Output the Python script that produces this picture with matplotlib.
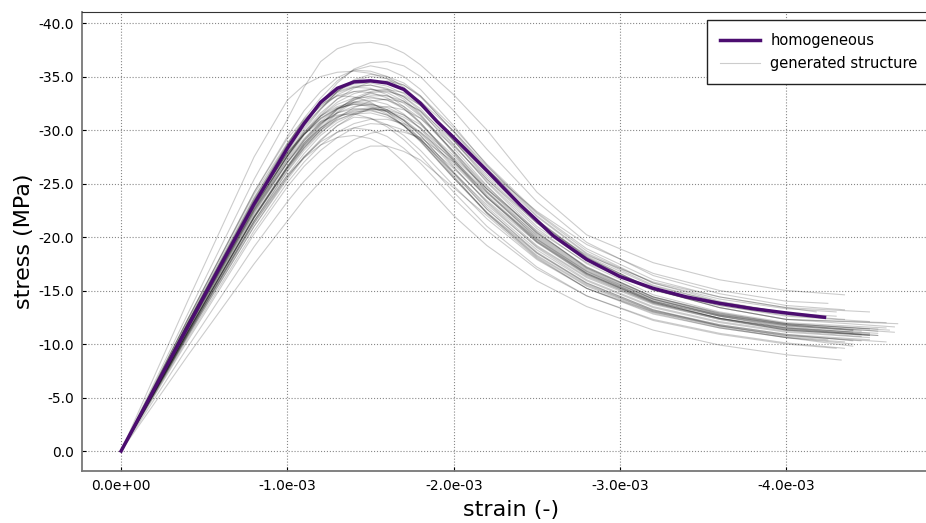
import numpy as np
import matplotlib
matplotlib.use("Agg")
import matplotlib.pyplot as plt
from matplotlib.ticker import FormatStrFormatter

# strain grid (units of 1e-3, compressive -> negative)
grid = [0, 0.4, 0.8, 1.0, 1.1, 1.2, 1.3, 1.4, 1.5, 1.6, 1.7, 1.8, 2.0, 2.2, 2.5, 2.8, 3.2, 3.6, 4.0]

# homogeneous material
homog_strain = [0, 0.2, 0.4, 0.6, 0.8, 1.0, 1.1, 1.2, 1.3, 1.4, 1.5, 1.6, 1.7, 1.8, 1.9, 2.0,
                2.2, 2.4, 2.6, 2.8, 3.0, 3.2, 3.4, 3.6, 3.8, 4.0, 4.23]
homog_stress = [0, -5.8, -11.6, -17.4, -23.1, -28.3, -30.6, -32.6, -33.9, -34.5, -34.6, -34.4,
                -33.8, -32.5, -30.8, -29.3, -26.2, -23.0, -20.1, -17.9, -16.3, -15.2, -14.4,
                -13.8, -13.3, -12.9, -12.5]

# generated structures: stress at grid points (MPa)
gen_stress = [
    [0, -12.8, -25.4, -31.0, -34.0, -36.4, -37.6, -38.1, -38.2, -37.9, -37.2, -36.1, -33.3, -30.0, -24.2, -20.2, -17.6, -16.0, -15.0],
    [0, -14.0, -27.5, -32.8, -34.2, -35.0, -35.4, -35.5, -35.3, -34.8, -33.8, -32.4, -29.0, -25.6, -21.3, -18.3, -15.8, -14.4, -13.4],
    [0, -8.9, -17.5, -21.5, -23.5, -25.2, -26.7, -27.9, -28.5, -28.5, -28.0, -27.2, -24.6, -22.0, -18.0, -15.2, -13.0, -11.6, -10.6],
    [0, -11.0, -21.5, -25.8, -27.4, -28.6, -29.3, -29.5, -29.2, -28.4, -27.0, -25.4, -22.0, -19.2, -15.9, -13.5, -11.3, -9.9, -9.0],
    [0, -11.9, -23.4, -28.4, -30.6, -32.3, -33.5, -34.0, -33.9, -33.3, -32.2, -30.7, -27.2, -23.8, -19.6, -16.6, -14.0, -12.6, -11.7],
    [0, -11.1, -21.8, -26.4, -28.3, -29.8, -30.9, -31.6, -32.0, -31.8, -31.2, -30.2, -27.4, -24.5, -20.6, -17.6, -15.0, -13.6, -12.6],
    [0, -11.7, -23.0, -27.9, -30.2, -32.0, -33.6, -34.7, -35.2, -35.0, -34.4, -33.2, -29.8, -26.2, -21.6, -18.2, -15.4, -13.9, -12.9],
    [0, -10.7, -21.0, -25.4, -27.4, -29.0, -30.4, -31.2, -31.1, -30.5, -29.5, -28.1, -24.8, -21.7, -17.9, -15.2, -12.9, -11.5, -10.6],
    [0, -11.1, -21.8, -26.5, -28.6, -30.2, -31.7, -32.8, -33.5, -33.6, -33.2, -32.3, -29.4, -26.0, -21.6, -18.1, -15.1, -13.4, -12.3],
    [0, -11.9, -23.2, -27.8, -29.6, -31.0, -32.0, -32.5, -32.4, -31.9, -30.9, -29.5, -26.1, -22.8, -18.8, -15.9, -13.4, -12.0, -11.1],
    [0, -11.9, -23.5, -28.6, -31.1, -33.0, -34.6, -35.6, -36.0, -35.7, -35.0, -33.8, -30.4, -26.7, -22.0, -18.5, -15.7, -14.2, -13.3],
    [0, -10.3, -20.3, -24.7, -26.6, -28.1, -29.3, -30.2, -30.6, -30.5, -30.0, -29.1, -26.4, -23.4, -19.5, -16.5, -13.9, -12.4, -11.4],
    [0, -12.3, -24.2, -29.2, -31.0, -32.4, -33.2, -33.1, -32.6, -31.7, -30.4, -28.9, -25.5, -22.3, -18.5, -15.7, -13.2, -11.8, -10.9],
    [0, -11.5, -22.6, -27.5, -29.7, -31.4, -32.9, -33.9, -34.5, -34.6, -34.2, -33.2, -30.2, -26.8, -22.3, -18.9, -16.0, -14.4, -13.4],
    [0, -11.5, -22.5, -27.0, -28.8, -30.2, -31.2, -31.7, -31.8, -31.4, -30.5, -29.2, -25.9, -22.6, -18.6, -15.7, -13.2, -11.7, -10.7],
    [0, -10.9, -21.5, -26.2, -28.3, -30.0, -31.6, -32.6, -33.0, -32.8, -32.2, -31.1, -28.0, -24.7, -20.4, -17.2, -14.4, -12.9, -11.9],
    [0, -12.3, -24.2, -29.4, -31.8, -33.6, -34.9, -35.6, -35.5, -35.0, -34.0, -32.6, -29.0, -25.4, -21.0, -17.8, -15.1, -13.6, -12.7],
    [0, -10.7, -21.0, -25.6, -27.5, -29.1, -30.4, -31.4, -32.0, -32.2, -31.9, -31.1, -28.5, -25.4, -21.3, -18.0, -15.1, -13.4, -12.3],
    [0, -10.9, -21.3, -25.6, -27.5, -28.9, -29.8, -30.2, -30.0, -29.4, -28.3, -26.9, -23.6, -20.6, -17.0, -14.5, -12.3, -11.0, -10.1],
    [0, -11.9, -23.4, -28.3, -30.4, -32.0, -33.3, -34.0, -34.2, -33.9, -33.1, -31.8, -28.3, -24.8, -20.3, -17.1, -14.4, -12.9, -11.9],
    [0, -11.3, -22.2, -26.9, -29.0, -30.6, -31.9, -32.6, -32.8, -32.4, -31.5, -30.1, -26.6, -23.2, -19.0, -16.0, -13.5, -12.1, -11.2],
    [0, -11.1, -21.9, -26.6, -28.7, -30.4, -31.9, -33.0, -33.6, -33.8, -33.5, -32.7, -29.9, -26.6, -22.2, -18.7, -15.7, -14.0, -12.9],
    [0, -10.5, -20.6, -25.1, -27.0, -28.6, -29.8, -30.6, -31.0, -31.0, -30.6, -29.8, -27.2, -24.2, -20.2, -17.0, -14.2, -12.6, -11.5],
    [0, -11.5, -22.7, -27.6, -30.0, -31.9, -33.6, -34.6, -35.0, -34.8, -34.2, -33.1, -29.9, -26.4, -21.9, -18.4, -15.5, -13.9, -12.9],
    [0, -11.7, -22.9, -27.6, -29.6, -31.1, -32.1, -32.4, -32.2, -31.5, -30.4, -29.0, -25.5, -22.2, -18.2, -15.4, -13.0, -11.7, -10.8],
    [0, -11.1, -21.9, -26.6, -28.8, -30.5, -32.0, -32.9, -33.4, -33.2, -32.5, -31.3, -28.0, -24.5, -20.1, -16.9, -14.2, -12.7, -11.7],
    [0, -12.1, -23.7, -28.7, -30.9, -32.5, -33.7, -34.3, -34.4, -34.1, -33.4, -32.3, -29.3, -26.3, -22.4, -19.3, -16.6, -15.0, -14.0],
    [0, -11.9, -23.2, -27.9, -29.6, -30.8, -31.4, -31.5, -31.1, -30.3, -29.1, -27.6, -24.2, -21.0, -17.2, -14.5, -12.2, -10.9, -10.0],
    [0, -10.9, -21.5, -26.1, -28.1, -29.7, -31.1, -32.1, -32.7, -32.9, -32.6, -31.8, -29.0, -25.8, -21.5, -18.1, -15.1, -13.4, -12.3],
    [0, -12.3, -24.0, -28.8, -30.8, -32.2, -33.2, -33.6, -33.5, -33.0, -32.0, -30.6, -27.1, -23.7, -19.5, -16.4, -13.8, -12.3, -11.3],
    [0, -11.7, -23.0, -28.0, -30.5, -32.5, -34.4, -35.7, -36.3, -36.4, -36.0, -35.0, -31.8, -28.2, -23.3, -19.5, -16.4, -14.7, -13.6],
    [0, -11.1, -21.8, -26.4, -28.4, -30.0, -31.2, -31.8, -32.0, -31.7, -30.9, -29.7, -26.5, -23.3, -19.2, -16.3, -13.8, -12.4, -11.5],
    [0, -9.7, -19.1, -23.3, -25.2, -26.8, -28.1, -29.1, -29.7, -30.0, -29.8, -29.3, -27.0, -24.1, -20.0, -16.8, -14.0, -12.4, -11.3],
    [0, -11.4, -22.4, -27.0, -29.0, -30.6, -31.6, -32.2, -32.4, -32.1, -31.4, -30.2, -27.0, -23.7, -19.6, -16.5, -13.9, -12.4, -11.4],
    [0, -11.6, -22.8, -27.5, -29.6, -31.3, -32.4, -33.0, -33.1, -32.8, -32.0, -30.7, -27.3, -23.9, -19.7, -16.6, -14.0, -12.6, -11.6],
    [0, -11.2, -22.0, -26.6, -28.6, -30.2, -31.3, -31.9, -32.1, -31.8, -31.0, -29.8, -26.8, -23.7, -19.8, -16.8, -14.2, -12.7, -11.8],
    [0, -11.8, -23.1, -27.8, -29.8, -31.3, -32.2, -32.6, -32.5, -31.9, -30.9, -29.5, -26.0, -22.6, -18.5, -15.6, -13.1, -11.7, -10.8],
    [0, -11.3, -22.3, -27.0, -29.1, -30.8, -32.0, -32.8, -33.2, -33.2, -32.7, -31.7, -28.6, -25.2, -20.8, -17.5, -14.6, -13.0, -12.0],
    [0, -11.5, -22.6, -27.2, -29.2, -30.7, -31.6, -32.0, -31.9, -31.4, -30.4, -29.0, -25.6, -22.3, -18.3, -15.5, -13.1, -11.8, -10.9],
    [0, -12.0, -23.6, -28.6, -30.8, -32.5, -33.6, -34.1, -34.2, -33.8, -32.9, -31.5, -27.9, -24.3, -19.9, -16.7, -14.1, -12.7, -11.8],
    [0, -10.8, -21.3, -25.8, -27.8, -29.5, -30.7, -31.5, -31.9, -31.9, -31.4, -30.5, -27.6, -24.5, -20.4, -17.2, -14.4, -12.8, -11.8],
    [0, -11.7, -22.9, -27.6, -29.6, -31.1, -32.0, -32.4, -32.3, -31.7, -30.7, -29.2, -25.7, -22.2, -18.1, -15.2, -12.8, -11.5, -10.6],
    [0, -11.4, -22.5, -27.3, -29.5, -31.3, -32.6, -33.4, -33.8, -33.7, -33.1, -32.0, -28.7, -25.1, -20.5, -17.1, -14.3, -12.8, -11.9],
    [0, -11.1, -21.9, -26.5, -28.5, -30.0, -31.0, -31.5, -31.6, -31.2, -30.4, -29.1, -26.0, -23.0, -19.1, -16.2, -13.7, -12.3, -11.3],
    [0, -11.6, -22.8, -27.6, -29.8, -31.6, -32.9, -33.6, -33.8, -33.5, -32.7, -31.4, -27.8, -24.2, -19.8, -16.6, -13.9, -12.4, -11.5],
]
# last point of every generated curve (strain in 1e-3, stress)
end_strain = [4.35, 4.18, 4.40, 4.33, 4.45, 4.50, 4.20, 4.40, 4.60, 4.50, 4.30, 4.55, 4.40, 4.50, 4.25,
              4.62, 4.35, 4.67, 4.35, 4.55, 4.45, 4.30, 4.50, 4.20, 4.60, 4.40, 4.25, 4.30, 4.65,
              4.50, 4.35, 4.55, 4.50, 4.50, 4.40, 4.55, 4.45, 4.60, 4.50, 4.40, 4.65, 4.35,
              4.50, 4.55, 4.45]
end_stress = [-14.6, -13.0, -9.8, -8.5, -11.2, -12.1, -12.6, -10.0, -12.0, -10.6, -13.0, -10.8, -10.3,
              -13.0, -10.4, -11.3, -12.3, -11.9, -9.6, -11.4, -10.7, -12.6, -11.0, -12.6, -10.2,
              -11.3, -13.8, -9.6, -11.6, -10.8, -13.2, -11.0, -10.8, -10.9, -11.1, -11.2, -10.3,
              -11.5, -10.4, -11.3, -11.1, -10.2, -11.4, -10.8, -10.9]

fig = plt.figure(figsize=(9.26, 5.23), dpi=100)
ax = fig.add_axes([0.0886, 0.0994, 0.9266, 0.8776])

for i, row in enumerate(gen_stress):
    x = np.array(grid + [end_strain[i]]) * -1e-3
    y = row + [end_stress[i]]
    ax.plot(x, y, color="k", alpha=0.2, lw=0.8,
            label="generated structure" if i == 0 else None, zorder=2)

ax.plot(np.array(homog_strain) * -1e-3, homog_stress, color="#4c0d70", lw=2.5,
        label="homogeneous", zorder=3)

ax.set_xlim(0.000235, -0.004925)
ax.set_ylim(1.87, -41.03)
ax.set_xticks([0, -0.001, -0.002, -0.003, -0.004])
ax.set_yticks(np.arange(0, -41, -5))
ax.xaxis.set_major_formatter(FormatStrFormatter("%.1e"))
ax.yaxis.set_major_formatter(FormatStrFormatter("%.1f"))
ax.tick_params(direction="in", length=3, labelsize=10, pad=6)
ax.grid(True, linestyle=":", color="#888888", lw=0.8)

for s in ["left", "bottom"]:
    ax.spines[s].set_color("#777777")
    ax.spines[s].set_linewidth(1.3)
ax.spines["top"].set_color("#333333")

ax.set_xlabel("strain (-)", fontsize=16, labelpad=5)
ax.set_ylabel("stress (MPa)", fontsize=16, labelpad=3)

h, l = ax.get_legend_handles_labels()
leg = ax.legend(h[::-1], l[::-1], loc="upper left", bbox_to_anchor=(0.7284, 0.9826),
                borderaxespad=0, fontsize=10.5, fancybox=False, framealpha=1,
                handlelength=2.7, handletextpad=0.75, labelspacing=0.55, borderpad=0.9)
leg.get_frame().set_edgecolor("#222222")

fig.savefig("out.png", dpi=100)
